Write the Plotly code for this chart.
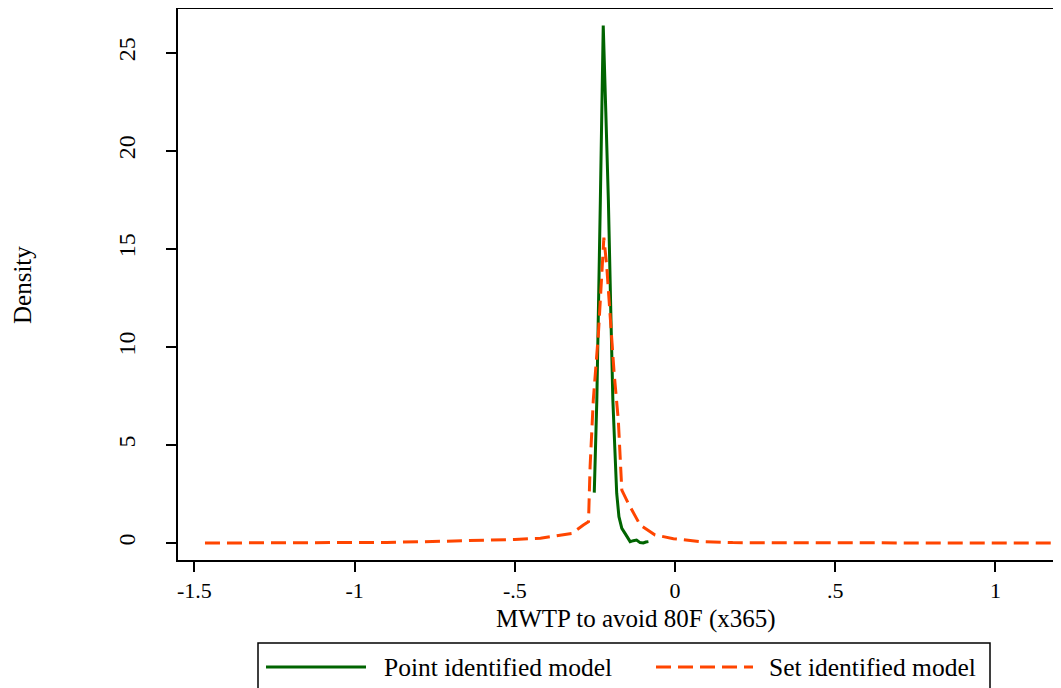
import plotly.graph_objects as go

# ---- data ----
point_x = [-0.252, -0.244, -0.233, -0.224, -0.216, -0.208, -0.200, -0.194, -0.188, -0.182,
           -0.175, -0.166, -0.156, -0.149, -0.140, -0.130, -0.120, -0.109, -0.099, -0.091, -0.083]
point_y = [2.57, 7.3, 17.5, 26.4, 22.0, 17.5, 11.5, 7.3, 4.9, 2.54,
           1.34, 0.75, 0.49, 0.32, 0.07, 0.12, 0.15, 0.02, 0.0, 0.05, 0.07]

set_x = [-1.467, -1.2, -1.0, -0.9, -0.8, -0.7, -0.6, -0.5, -0.42, -0.37, -0.322, -0.286,
         -0.27, -0.265, -0.255, -0.239, -0.228, -0.222, -0.213, -0.203, -0.19, -0.177,
         -0.166, -0.146, -0.109, -0.062, -0.005, 0.078, 0.18, 0.4, 0.7, 1.0, 1.19]
set_y = [0.0, 0.0, 0.01, 0.03, 0.06, 0.09, 0.13, 0.18, 0.24, 0.35, 0.49, 0.92,
         1.09, 3.9, 7.3, 10.7, 14.1, 15.58, 14.1, 11.7, 8.66, 6.28,
         2.7, 2.03, 0.92, 0.41, 0.22, 0.07, 0.02, 0.01, 0.0, 0.0, 0.0]

series_names = ["Point identified model", "Set identified model"]
series_colors = ["#006400", "#FF4500"]

x_tick_vals = [-1.5, -1, -0.5, 0, 0.5, 1]
x_tick_text = ["-1.5", "-1", "-.5", "0", ".5", "1"]
y_tick_vals = [0, 5, 10, 15, 20, 25]
y_tick_text = ["0", "5", "10", "15", "20", "25"]

x_title = "MWTP to avoid 80F (x365)"
y_title = "Density"

FONT = "Liberation Serif, Times New Roman, serif"
DASH = "15px,7px"

fig = go.Figure()
fig.add_trace(go.Scatter(x=point_x, y=point_y, mode="lines", name=series_names[0],
                         line=dict(color=series_colors[0], width=3), showlegend=False))
fig.add_trace(go.Scatter(x=set_x, y=set_y, mode="lines", name=series_names[1],
                         line=dict(color=series_colors[1], width=3, dash=DASH), showlegend=False))

# page body has an 8px margin: figure origin sits at screen (8, 8)
OFF = 8
SCREEN_W, SCREEN_H = 1061, 688
W, H = SCREEN_W - OFF, SCREEN_H - OFF
PL, PT, PR, PB = 178, 9, 1061, 560      # plot area in screen pixels
L, T = PL - OFF, PT - OFF
R = W - (PR - OFF)
B = H - (PB - OFF)
pw, ph = PR - PL, PB - PT

def px(xs):
    return (xs - PL) / pw

def py(ys):
    return (PB - ys) / ph

fig.update_layout(
    width=W, height=H,
    margin=dict(l=L, r=R, t=T, b=B, autoexpand=False),
    paper_bgcolor="white", plot_bgcolor="white",
    font=dict(family=FONT, color="black", size=24),
    xaxis=dict(range=[-1.5512, 1.2047], tickvals=x_tick_vals, ticktext=x_tick_text,
               showline=True, linecolor="black", linewidth=1.5, mirror=True,
               ticks="outside", ticklen=10, tickwidth=1.5, tickcolor="black",
               automargin=False,
               showgrid=False, zeroline=False, tickfont=dict(size=22, family=FONT)),
    yaxis=dict(range=[-0.867, 27.24], tickvals=y_tick_vals, ticktext=y_tick_text,
               showline=True, linecolor="black", linewidth=1.5,
               ticks="outside", ticklen=10, tickwidth=1.5, tickcolor="black",
               tickangle=-90, ticklabelstandoff=22, automargin=False,
               showgrid=False, zeroline=False, tickfont=dict(size=24, family=FONT)),
)

# y-axis title
fig.add_annotation(text=y_title, xref="paper", yref="paper", x=px(22), y=py(285),
                   xanchor="center", yanchor="middle", textangle=-90, showarrow=False,
                   font=dict(size=25, family=FONT, color="black"))

# x-axis title (centered on the original, wider plot region)
fig.add_annotation(text=x_title, xref="paper", yref="paper", x=px(636), y=py(619),
                   xanchor="center", yanchor="middle", showarrow=False,
                   font=dict(size=25, family=FONT, color="black"))

# legend box
fig.add_shape(type="rect", xref="paper", yref="paper", x0=px(258), x1=px(990),
              y0=py(643), y1=py(720), line=dict(color="black", width=1.5),
              fillcolor="white", layer="above")
ly = 667
fig.add_shape(type="line", xref="paper", yref="paper", x0=px(266), x1=px(366),
              y0=py(ly), y1=py(ly), line=dict(color=series_colors[0], width=3))
fig.add_annotation(text=series_names[0], xref="paper", yref="paper", x=px(382), y=py(ly),
                   xanchor="left", yanchor="middle", showarrow=False,
                   font=dict(size=25.5, family=FONT, color="black"))
fig.add_shape(type="line", xref="paper", yref="paper", x0=px(656), x1=px(753),
              y0=py(ly), y1=py(ly), line=dict(color=series_colors[1], width=3, dash=DASH))
fig.add_annotation(text=series_names[1], xref="paper", yref="paper", x=px(767), y=py(ly),
                   xanchor="left", yanchor="middle", showarrow=False,
                   font=dict(size=25.5, family=FONT, color="black"))

fig.write_html("out.html")
